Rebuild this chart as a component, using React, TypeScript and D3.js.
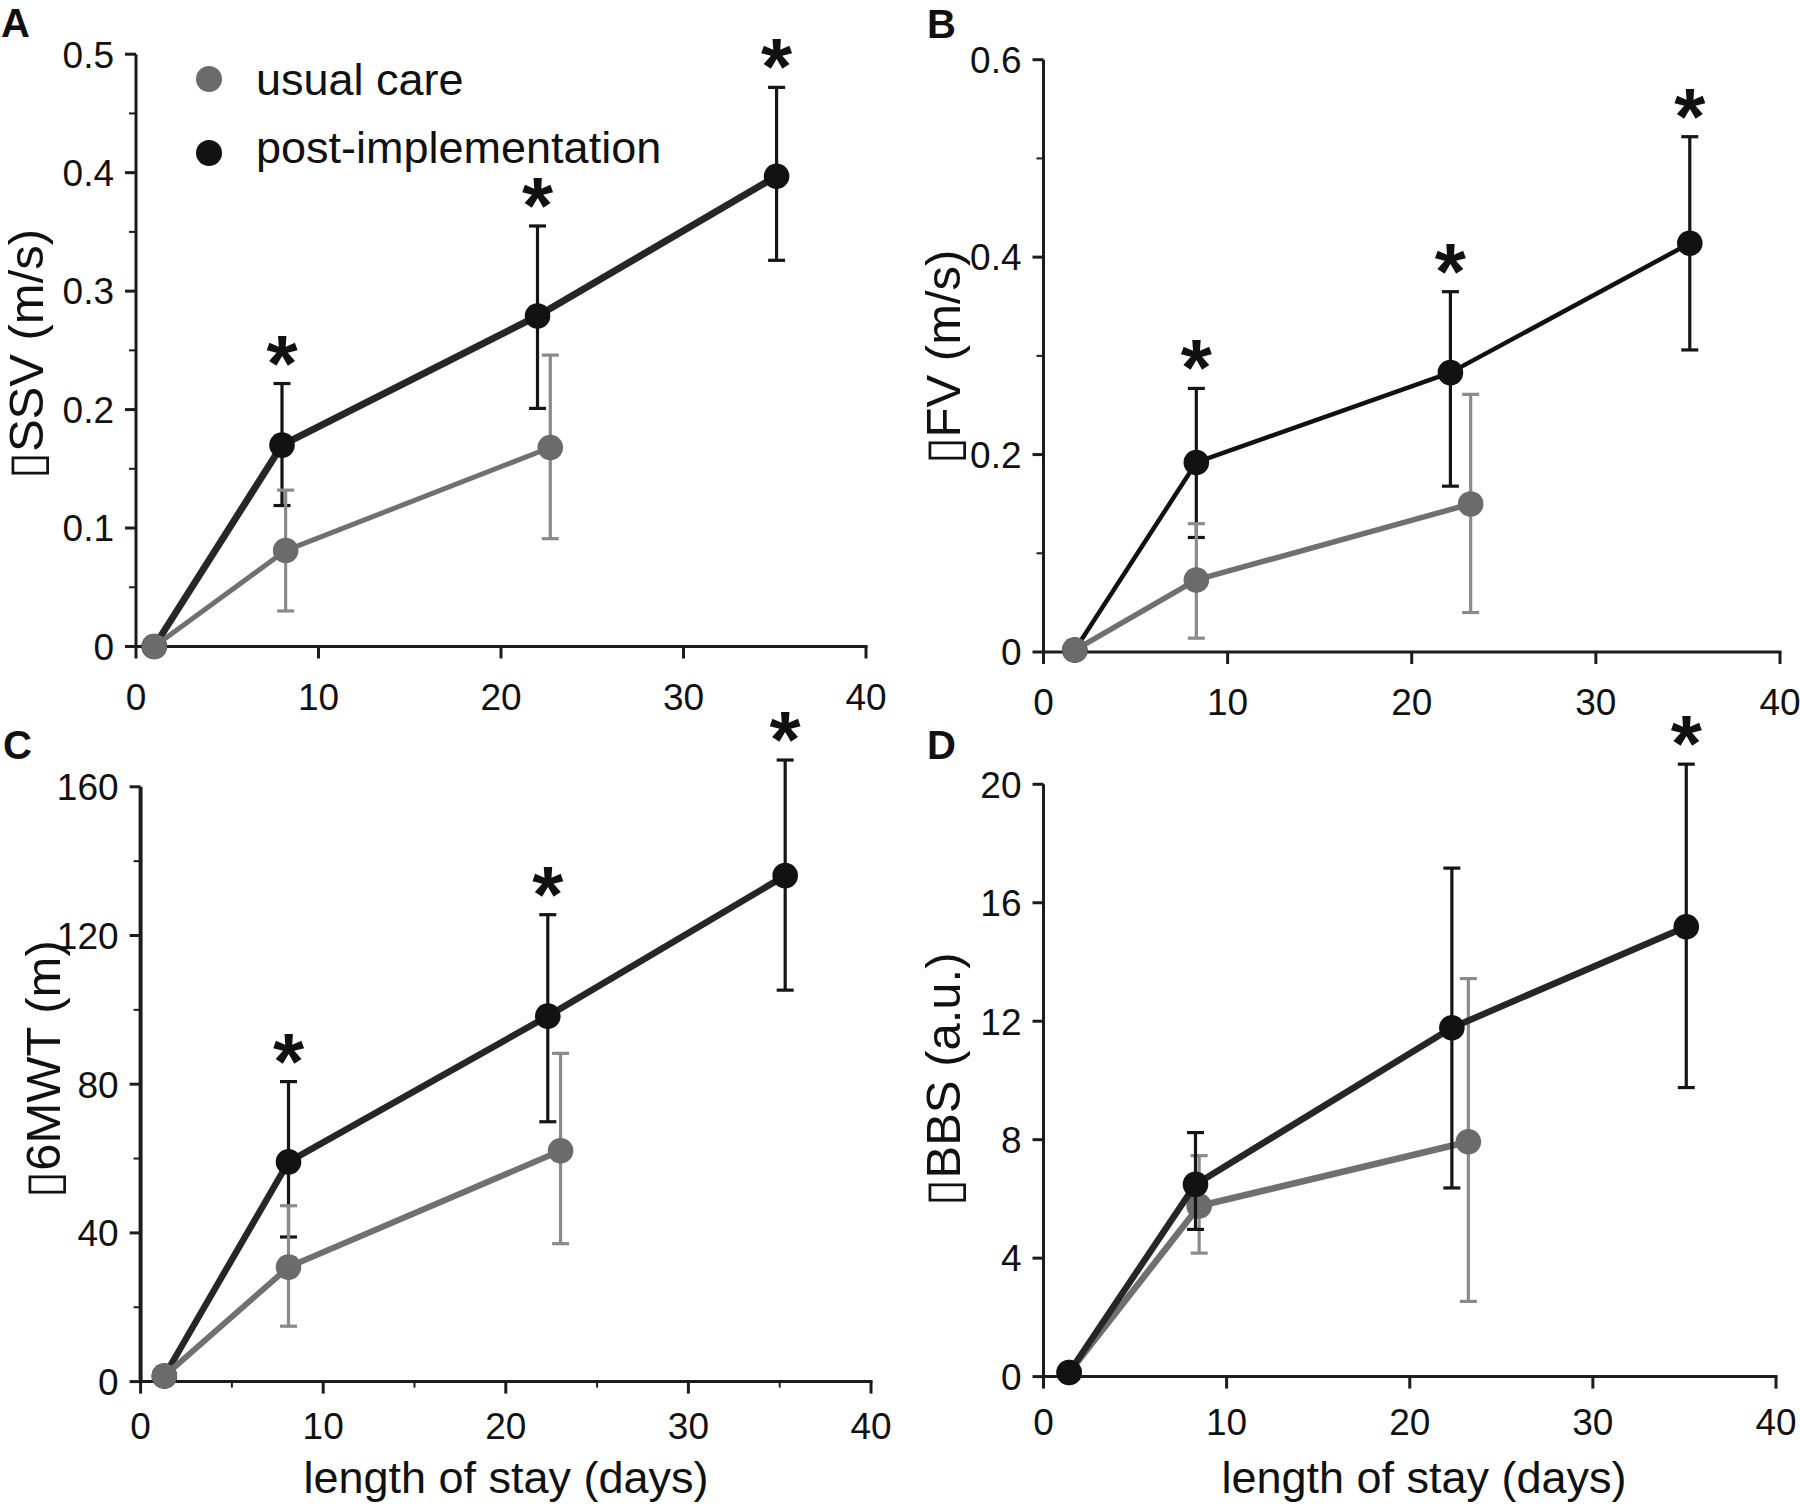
import React from 'react';
import * as d3 from 'd3';

const FONT = '"Liberation Sans", Arial, Helvetica, sans-serif';

// ---------- data ----------
const xTicks = [0, 10, 20, 30, 40];

// Panel A: ΔSSV (m/s)
const A_usual_x = [1.0, 8.2, 22.7];
const A_usual_y = [0, 0.081, 0.168];
const A_usual_lo = [null, 0.030, 0.091];
const A_usual_hi = [null, 0.132, 0.246];
const A_post_x = [1.0, 8.0, 22.0, 35.1];
const A_post_y = [0, 0.170, 0.279, 0.397];
const A_post_lo = [null, 0.119, 0.201, 0.326];
const A_post_hi = [null, 0.222, 0.355, 0.472];
const A_signif = [false, true, true, true];
const A_yTicks = [0, 0.1, 0.2, 0.3, 0.4, 0.5];
const A_yMinor = [0.05, 0.15, 0.25, 0.35, 0.45];

// Panel B: ΔFV (m/s)
const B_usual_x = [1.7, 8.3, 23.2];
const B_usual_y = [0.002, 0.073, 0.150];
const B_usual_lo = [null, 0.014, 0.040];
const B_usual_hi = [null, 0.130, 0.261];
const B_post_x = [1.7, 8.3, 22.1, 35.1];
const B_post_y = [0.002, 0.192, 0.283, 0.414];
const B_post_lo = [null, 0.116, 0.168, 0.306];
const B_post_hi = [null, 0.267, 0.365, 0.522];
const B_signif = [false, true, true, true];
const B_yTicks = [0, 0.2, 0.4, 0.6];
const B_yMinor = [0.1, 0.3, 0.5];

// Panel C: Δ6MWT (m)
const C_usual_x = [1.3, 8.1, 23.0];
const C_usual_y = [1.5, 30.8, 62.1];
const C_usual_lo = [null, 14.9, 37.1];
const C_usual_hi = [null, 47.3, 88.3];
const C_post_x = [1.3, 8.1, 22.3, 35.3];
const C_post_y = [1.5, 59.1, 98.3, 136.1];
const C_post_lo = [null, 38.9, 69.9, 105.3];
const C_post_hi = [null, 80.7, 125.6, 167.2];
const C_signif = [false, true, true, true];
const C_yTicks = [0, 40, 80, 120, 160];
const C_yMinor = [20, 60, 100, 140];
const C_xMinor = [5, 15, 25, 35];

// Panel D: ΔBBS (a.u.)
const D_usual_x = [1.4, 8.5, 23.2];
const D_usual_y = [0.14, 5.76, 7.93];
const D_usual_lo = [null, 4.17, 2.54];
const D_usual_hi = [null, 7.46, 13.44];
const D_post_x = [1.4, 8.3, 22.3, 35.1];
const D_post_y = [0.14, 6.49, 11.78, 15.19];
const D_post_lo = [null, 4.97, 6.37, 9.76];
const D_post_hi = [null, 8.24, 17.17, 20.68];
const D_signif = [false, false, false, true];
const D_yTicks = [0, 4, 8, 12, 16, 20];

const legendLabels = ['usual care', 'post-implementation'];
const xTitle = 'length of stay (days)';

// ---------- styles ----------
const C_USUAL_MARK = '#6b6b6b';
const C_USUAL_LINE = '#707070';
const C_USUAL_ERR = '#8a8a8a';
const C_POST_MARK = '#121212';
const C_POST_LINE = '#262626';
const C_POST_ERR = '#151515';
const AXIS = '#1c1c1c';

type Series = { x: number[]; y: number[]; lo: (number | null)[]; hi: (number | null)[] };

type PanelCfg = {
  letter: string;
  letterX: number;
  letterY: number;
  left: number;
  right: number;
  bottom: number;
  top: number;
  yMax: number;
  yTicks: number[];
  yMinor: number[];
  xMinor: number[];
  yTitle: string;
  yTitleX: number;
  yTitleY: number;
  xLabelDy: number;
  xTitleX?: number;
  usual: Series;
  post: Series;
  signif: boolean[];
  postOnTop: boolean;
  postLineWidth: number;
  usualLineWidth: number;
  postLineColor: string;
  axisWidth: number;
  legend?: boolean;
};

function Panel({ cfg }: { cfg: PanelCfg }) {
  const x = d3.scaleLinear().domain([0, 40]).range([cfg.left, cfg.right]);
  const y = d3.scaleLinear().domain([0, cfg.yMax]).range([cfg.bottom, cfg.top]);

  const path = (s: Series) =>
    d3
      .line<number>()
      .x((d) => x(d))
      .y((_, i) => y(s.y[i]))(s.x) || '';

  const capW = 8.5;
  const errBars = (s: Series, color: string, key: string) =>
    s.x.map((xv, i) => {
      const lo = s.lo[i];
      const hi = s.hi[i];
      if (lo == null || hi == null) return null;
      const cx = x(xv);
      return (
        <g key={key + i} stroke={color} strokeWidth={3.2} fill="none">
          <line x1={cx} x2={cx} y1={y(lo)} y2={y(hi)} />
          <line x1={cx - capW} x2={cx + capW} y1={y(lo)} y2={y(lo)} />
          <line x1={cx - capW} x2={cx + capW} y1={y(hi)} y2={y(hi)} />
        </g>
      );
    });

  const markers = (s: Series, color: string, key: string) =>
    s.x.map((xv, i) => <circle key={key + i} cx={x(xv)} cy={y(s.y[i])} r={12.8} fill={color} />);

  const usualGroup = (
    <g key="usual">
      {errBars(cfg.usual, C_USUAL_ERR, 'ue')}
      <path d={path(cfg.usual)} fill="none" stroke={C_USUAL_LINE} strokeWidth={cfg.usualLineWidth} strokeLinejoin="round" />
      {markers(cfg.usual, C_USUAL_MARK, 'um')}
    </g>
  );
  const postGroup = (
    <g key="post">
      {errBars(cfg.post, C_POST_ERR, 'pe')}
      <path d={path(cfg.post)} fill="none" stroke={cfg.postLineColor} strokeWidth={cfg.postLineWidth} strokeLinejoin="round" />
      {markers(cfg.post, C_POST_MARK, 'pm')}
    </g>
  );

  return (
    <g fontFamily={FONT}>
      {/* panel letter */}
      <text x={cfg.letterX} y={cfg.letterY} fontSize={40} fontWeight="bold" fill="#111">
        {cfg.letter}
      </text>

      {/* y axis */}
      <line x1={cfg.left} x2={cfg.left} y1={cfg.bottom + 1.5} y2={y(cfg.yMax)} stroke={AXIS} strokeWidth={cfg.axisWidth} />
      {cfg.yTicks.map((t) => (
        <g key={'yt' + t}>
          <line x1={cfg.left - 11} x2={cfg.left} y1={y(t)} y2={y(t)} stroke={AXIS} strokeWidth={3} />
          <text x={cfg.left - 22} y={y(t)} dy="0.36em" textAnchor="end" fontSize={37} fill="#111">
            {d3.format('~g')(t)}
          </text>
        </g>
      ))}
      {cfg.yMinor.map((t) => (
        <line key={'ym' + t} x1={cfg.left - 7} x2={cfg.left} y1={y(t)} y2={y(t)} stroke={AXIS} strokeWidth={2} />
      ))}

      {/* x axis */}
      <line x1={cfg.left - 1.5} x2={cfg.right + 1.5} y1={cfg.bottom} y2={cfg.bottom} stroke={AXIS} strokeWidth={3} />
      {xTicks.map((t) => (
        <g key={'xt' + t}>
          <line x1={x(t)} x2={x(t)} y1={cfg.bottom} y2={cfg.bottom + 12} stroke={AXIS} strokeWidth={3} />
          <text x={x(t)} y={cfg.bottom + cfg.xLabelDy} textAnchor="middle" fontSize={37} fill="#111">
            {t}
          </text>
        </g>
      ))}
      {cfg.xMinor.map((t) => (
        <line key={'xm' + t} x1={x(t)} x2={x(t)} y1={cfg.bottom} y2={cfg.bottom + 6} stroke={AXIS} strokeWidth={2} />
      ))}

      {/* y title */}
      <text
        transform={`translate(${cfg.yTitleX},${cfg.yTitleY}) rotate(-90)`}
        textAnchor="middle"
        fontSize={49}
        fill="#111"
      >
        {cfg.yTitle}
      </text>

      {/* x title */}
      {cfg.xTitleX != null && (
        <text x={cfg.xTitleX} y={1493} textAnchor="middle" fontSize={45} fill="#111">
          {xTitle}
        </text>
      )}

      {/* series */}
      {cfg.postOnTop ? [usualGroup, postGroup] : [postGroup, usualGroup]}

      {/* significance asterisks */}
      {cfg.post.x.map((xv, i) =>
        cfg.signif[i] && cfg.post.hi[i] != null ? (
          <text
            key={'ast' + i}
            x={x(xv)}
            y={y(cfg.post.hi[i] as number) + 7}
            textAnchor="middle"
            fontSize={80}
            fontWeight="bold"
            fill="#111"
          >
            *
          </text>
        ) : null
      )}

      {/* legend */}
      {cfg.legend && (
        <g>
          <circle cx={209} cy={79} r={13} fill={C_USUAL_MARK} />
          <text x={256} y={95} fontSize={45} fill="#111">
            {legendLabels[0]}
          </text>
          <circle cx={209} cy={153} r={13} fill={C_POST_MARK} />
          <text x={256} y={163} fontSize={45} fill="#111">
            {legendLabels[1]}
          </text>
        </g>
      )}
    </g>
  );
}

const panels: PanelCfg[] = [
  {
    letter: 'A', letterX: 1, letterY: 37,
    left: 136, right: 866, bottom: 646.5, top: 54.2, yMax: 0.5,
    yTicks: A_yTicks, yMinor: A_yMinor, xMinor: [],
    yTitle: '\u25AFSSV (m/s)', yTitleX: 43, yTitleY: 354, xLabelDy: 63,
    usual: { x: A_usual_x, y: A_usual_y, lo: A_usual_lo, hi: A_usual_hi },
    post: { x: A_post_x, y: A_post_y, lo: A_post_lo, hi: A_post_hi },
    signif: A_signif, postOnTop: false, postLineWidth: 7, usualLineWidth: 5, postLineColor: C_POST_LINE,
    axisWidth: 3, legend: true,
  },
  {
    letter: 'B', letterX: 927, letterY: 38,
    left: 1043.5, right: 1780, bottom: 652, top: 59.7, yMax: 0.6,
    yTicks: B_yTicks, yMinor: B_yMinor, xMinor: [],
    yTitle: '\u25AFFV (m/s)', yTitleX: 960, yTitleY: 357, xLabelDy: 63,
    usual: { x: B_usual_x, y: B_usual_y, lo: B_usual_lo, hi: B_usual_hi },
    post: { x: B_post_x, y: B_post_y, lo: B_post_lo, hi: B_post_hi },
    signif: B_signif, postOnTop: false, postLineWidth: 4.5, usualLineWidth: 5.5, postLineColor: '#111',
    axisWidth: 3,
  },
  {
    letter: 'C', letterX: 3, letterY: 759,
    left: 140.6, right: 871, bottom: 1381.6, top: 786.8, yMax: 160,
    yTicks: C_yTicks, yMinor: C_yMinor, xMinor: C_xMinor,
    yTitle: '\u25AF6MWT (m)', yTitleX: 60, yTitleY: 1069, xLabelDy: 57, xTitleX: 506,
    usual: { x: C_usual_x, y: C_usual_y, lo: C_usual_lo, hi: C_usual_hi },
    post: { x: C_post_x, y: C_post_y, lo: C_post_lo, hi: C_post_hi },
    signif: C_signif, postOnTop: false, postLineWidth: 6.5, usualLineWidth: 6, postLineColor: C_POST_LINE,
    axisWidth: 4,
  },
  {
    letter: 'D', letterX: 927, letterY: 759,
    left: 1043.5, right: 1776, bottom: 1376.6, top: 784.3, yMax: 20,
    yTicks: D_yTicks, yMinor: [], xMinor: [],
    yTitle: '\u25AFBBS (a.u.)', yTitleX: 960, yTitleY: 1079, xLabelDy: 58, xTitleX: 1424,
    usual: { x: D_usual_x, y: D_usual_y, lo: D_usual_lo, hi: D_usual_hi },
    post: { x: D_post_x, y: D_post_y, lo: D_post_lo, hi: D_post_hi },
    signif: D_signif, postOnTop: true, postLineWidth: 6.5, usualLineWidth: 6.5, postLineColor: C_POST_LINE,
    axisWidth: 3,
  },
];

export default function App() {
  return (
    <svg
      width={1800}
      height={1507}
      viewBox="0 0 1800 1507"
      style={{ position: 'absolute', left: 0, top: 0, background: '#fff' }}
    >
      <rect x={0} y={0} width={1800} height={1507} fill="#fff" />
      {panels.map((p) => (
        <Panel key={p.letter} cfg={p} />
      ))}
    </svg>
  );
}
